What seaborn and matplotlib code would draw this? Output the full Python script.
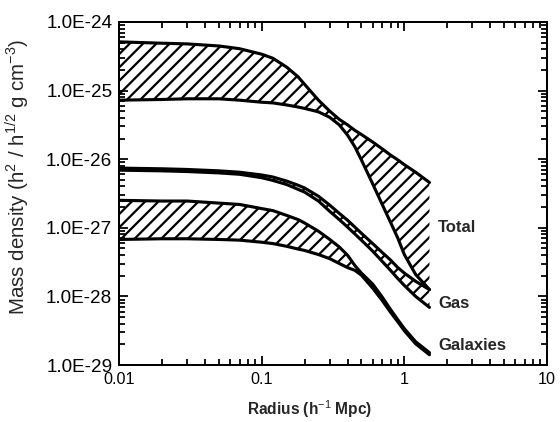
import numpy as np
import pandas as pd
import matplotlib
matplotlib.use("Agg")
import matplotlib.pyplot as plt
import seaborn as sns
from matplotlib.ticker import LogLocator, FuncFormatter, NullFormatter

# ── Data (densities given as log10 values) ────────────────────────────────────
radius = [0.01, 0.02, 0.03, 0.05, 0.07, 0.1, 0.12, 0.15, 0.18, 0.2, 0.25, 0.3,
          0.35, 0.4, 0.45, 0.5, 0.6, 0.7, 0.8, 0.9, 1.0, 1.2, 1.5]

total_hi = [-24.29, -24.31, -24.32, -24.35, -24.39, -24.47, -24.53, -24.66, -24.80, -24.91,
            -25.14, -25.30, -25.42, -25.50, -25.58, -25.64, -25.75, -25.85, -25.94, -26.01,
            -26.08, -26.19, -26.34]
total_lo = [-25.14, -25.13, -25.12, -25.12, -25.14, -25.17, -25.18, -25.21, -25.24, -25.26,
            -25.31, -25.39, -25.50, -25.65, -25.82, -26.01, -26.36, -26.66, -26.92, -27.15,
            -27.39, -27.68, -27.90]

gas_hi = [-26.13, -26.14, -26.15, -26.17, -26.19, -26.23, -26.26, -26.32, -26.38, -26.42,
          -26.54, -26.67, -26.79, -26.89, -26.99, -27.08, -27.23, -27.36, -27.47, -27.58,
          -27.66, -27.78, -27.90]
gas_lo = [-26.16, -26.17, -26.18, -26.20, -26.22, -26.27, -26.31, -26.37, -26.44, -26.48,
          -26.61, -26.76, -26.88, -26.99, -27.09, -27.18, -27.34, -27.49, -27.62, -27.74,
          -27.84, -28.00, -28.16]

gal_hi = [-26.60, -26.61, -26.61, -26.64, -26.66, -26.72, -26.75, -26.82, -26.88, -26.93,
          -27.05, -27.17, -27.28, -27.40, -27.55, -27.66, -27.82, -28.01, -28.19, -28.34,
          -28.47, -28.66, -28.82]
gal_lo = [-27.17, -27.16, -27.16, -27.17, -27.18, -27.21, -27.23, -27.27, -27.31, -27.33,
          -27.39, -27.45, -27.52, -27.58, -27.62, -27.69, -27.88, -28.06, -28.23, -28.37,
          -28.50, -28.69, -28.85]

band_names = ["Total", "Gas", "Galaxies"]
band_label_y = [1.0e-27, 7.9e-29, 1.9e-29]
label_x = 1.73

x_ticks = [0.01, 0.1, 1, 10]
x_ticklabels = ["0.01", "0.1", "1", "10"]
y_ticks = [1e-29, 1e-28, 1e-27, 1e-26, 1e-25, 1e-24]

# ── Styling ───────────────────────────────────────────────────────────────────
sns.set_style("ticks")
plt.rcParams["font.family"] = ["Liberation Sans", "DejaVu Sans"]
plt.rcParams["hatch.linewidth"] = 2.0
plt.rcParams["mathtext.fontset"] = "custom"
plt.rcParams["mathtext.rm"] = "Liberation Sans"
plt.rcParams["mathtext.bf"] = "Liberation Sans:bold"

curves = {"total_hi": total_hi, "total_lo": total_lo, "gas_hi": gas_hi,
          "gas_lo": gas_lo, "gal_hi": gal_hi, "gal_lo": gal_lo}
dens = {k: np.power(10.0, v) for k, v in curves.items()}

# long-form table for seaborn
rows = []
for name, vals in dens.items():
    for r, v in zip(radius, vals):
        rows.append({"curve": name, "radius": r, "density": v})
df = pd.DataFrame(rows)

DPI = 80
fig = plt.figure(figsize=(560 / DPI, 422 / DPI), dpi=DPI)
ax = fig.add_axes([0.2125, 0.135, 0.7643, 0.813])

# hatched bands
for band in ["total", "gas", "gal"]:
    ax.fill_between(radius, dens[band + "_lo"], dens[band + "_hi"], facecolor="none",
                    edgecolor="black", hatch="//", linewidth=0)

sns.lineplot(data=df, x="radius", y="density", units="curve", estimator=None,
             color="black", linewidth=2.8, ax=ax, legend=False, sort=False)

ax.set_xscale("log")
ax.set_yscale("log")
ax.set_xlim(0.01, 10)
ax.set_ylim(1e-29, 1e-24)

for name, yv in zip(band_names, band_label_y):
    ax.text(label_x, yv, name, fontsize=15, fontweight="bold", va="center", ha="left")

ax.set_xticks(x_ticks)
ax.set_xticklabels(x_ticklabels)
ax.set_yticks(y_ticks)
ax.yaxis.set_major_formatter(FuncFormatter(lambda v, p: f"1.0E{int(round(np.log10(v)))}"))
ax.xaxis.set_minor_locator(LogLocator(base=10, subs=np.arange(2, 10)))
ax.yaxis.set_minor_locator(LogLocator(base=10, subs=np.arange(2, 10)))
ax.xaxis.set_minor_formatter(NullFormatter())
ax.yaxis.set_minor_formatter(NullFormatter())

ax.tick_params(which="both", direction="in", top=True, right=True, width=1.6, colors="black")
ax.tick_params(which="major", length=8, pad=6)
ax.tick_params(which="minor", length=5)
ax.tick_params(axis="x", which="major", labelsize=14.5)
ax.tick_params(axis="y", which="major", labelsize=17)
for s in ax.spines.values():
    s.set_linewidth(1.8)
    s.set_color("black")

ax.set_xlabel(r"Radius (h$^{-1}$ Mpc)", fontsize=14, fontweight="bold")
ax.set_ylabel(r"Mass density (h$^2$ / h$^{1/2}$ g cm$^{-3}$)", fontsize=18.5)
ax.xaxis.set_label_coords(0.446, -0.096)
ax.yaxis.set_label_coords(-0.205, 0.55)

fig.savefig("out.png", dpi=DPI, facecolor="white")
